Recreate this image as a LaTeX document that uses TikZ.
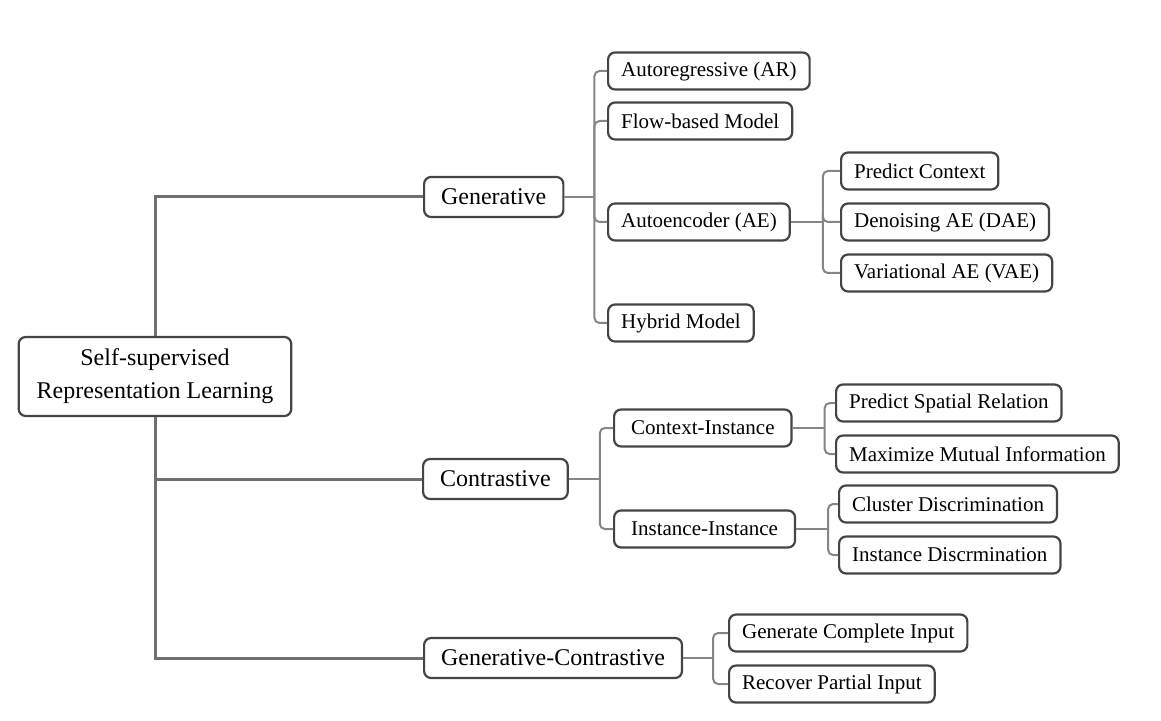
\documentclass[tikz,border=0pt]{standalone}
\usepackage{fontspec}
\setmainfont{Liberation Serif}
\usepackage{tikz}
\definecolor{boxline}{HTML}{454545}
\definecolor{trunkline}{HTML}{707070}
\definecolor{twigline}{HTML}{858585}
\tikzset{
  box/.style={draw=boxline,line width=1.1pt,rounded corners=3.5pt,fill=white,anchor=west,inner ysep=0pt},
  rootbox/.style={box,anchor=center,align=center,font=\fontsize{12}{16.5}\selectfont,minimum height=39.5pt,inner xsep=9pt},
  midbox/.style={box,font=\fontsize{12}{14}\selectfont,minimum height=20pt,inner xsep=8.5pt},
  leafbox/.style={box,font=\fontsize{10.5}{12}\selectfont,minimum height=18.5pt,inner xsep=6.5pt},
  subbox/.style={leafbox,inner xsep=8.5pt},
  trunk/.style={draw=trunkline,line width=1.5pt},
  twig/.style={draw=twigline,line width=1pt,rounded corners=2.5pt}
}

\begin{document}
\begin{tikzpicture}[x=0.5pt,y=-0.5pt]
\useasboundingbox (0,0) rectangle (1161,721);
% root
\node[rootbox] (root) at (155,376.5) {Self-supervised\\Representation Learning};
% first level
\node[midbox] (gen) at (423,197) {Generative};
\node[midbox] (con) at (422,479) {Contrastive};
\node[midbox] (gc) at (423,658) {Generative-Contrastive};
% generative branch
\node[leafbox] (ar) at (607,71) {Autoregressive (AR)};
\node[leafbox] (flow) at (607,121) {Flow-based Model};
\node[leafbox] (ae) at (607,222) {Autoencoder (AE)};
\node[leafbox] (hyb) at (607,323) {Hybrid Model};
\node[leafbox] (pc) at (840,171) {Predict Context};
\node[leafbox] (dae) at (840,222) {Denoising AE (DAE)};
\node[leafbox] (vae) at (840,273) {Variational AE (VAE)};
% contrastive branch
\node[subbox] (ci) at (613,428) {Context-Instance};
\node[subbox] (ii) at (613,529) {Instance-Instance};
\node[leafbox] (psr) at (835,403) {Predict Spatial Relation};
\node[leafbox] (mmi) at (835,454) {Maximize Mutual Information};
\node[leafbox] (cd) at (838,504) {Cluster Discrimination};
\node[leafbox] (idis) at (838,555) {Instance Discrmination};
% generative-contrastive branch
\node[leafbox] (gci) at (728,633) {Generate Complete Input};
\node[leafbox] (rpi) at (728,684) {Recover Partial Input};

% trunk lines
\draw[trunk] (root.north) |- (gen.west);
\draw[trunk] (root.south) |- (con.west);
\draw[trunk] (root.south) |- (gc.west);

% twigs
\draw[twig] (gen.east) -- ++(30,0) coordinate (genj);
\foreach \c in {ar,flow,ae,hyb}{
    \draw[twig] (genj) |- (\c.west);
}
\draw[twig] (ae.east) -- ++(32,0) coordinate (aej);
\foreach \c in {pc,dae,vae}{
    \draw[twig] (aej) |- (\c.west);
}
\draw[twig] (con.east) -- ++(31,0) coordinate (conj);
\foreach \c in {ci,ii}{
    \draw[twig] (conj) |- (\c.west);
}
\draw[twig] (ci.east) -- ++(32,0) coordinate (cij);
\foreach \c in {psr,mmi}{
    \draw[twig] (cij) |- (\c.west);
}
\draw[twig] (ii.east) -- ++(32,0) coordinate (iij);
\foreach \c in {cd,idis}{
    \draw[twig] (iij) |- (\c.west);
}
\draw[twig] (gc.east) -- ++(30,0) coordinate (gcj);
\foreach \c in {gci,rpi}{
    \draw[twig] (gcj) |- (\c.west);
}

\end{tikzpicture}
\end{document}
